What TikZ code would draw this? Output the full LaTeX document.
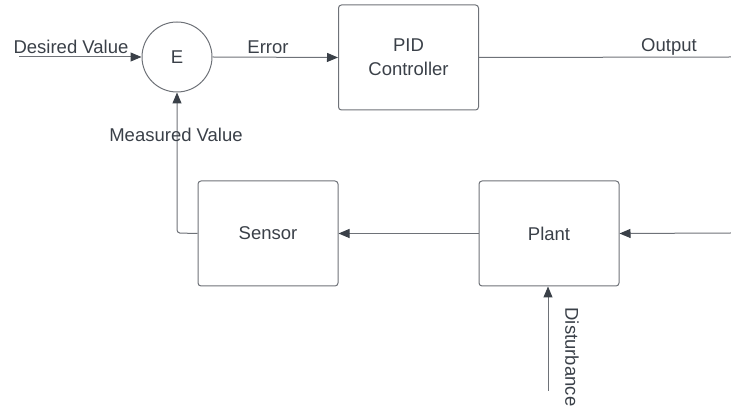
\documentclass[tikz,border=0pt]{standalone}
\usepackage{fontspec}
\setmainfont{Liberation Sans}
\usetikzlibrary{arrows.meta}
\definecolor{ink}{RGB}{58,64,72}
\definecolor{wire}{RGB}{110,114,120}
\tikzset{
  txt/.style={text=ink, font=\fontsize{18.5}{24}\selectfont},
  block/.style={txt, draw=wire, line width=1pt, rounded corners=3pt, minimum width=140pt, minimum height=105pt, inner sep=0pt, align=center},
  sumnode/.style={txt, draw=wire, line width=1pt, circle, minimum size=70pt, inner sep=0pt},
  flow/.style={draw=wire, line width=1pt, -{Triangle[length=11pt,width=9pt,color=ink]}},
  plain/.style={draw=wire, line width=1pt},
  lbl/.style={txt, inner sep=0pt}
}
\begin{document}
\begin{tikzpicture}[x=1pt,y=-1pt]
  \useasboundingbox (0,0) rectangle (731,411);
  \node[sumnode] (E) at (177,57) {E};
  \node[block] (pid) at (408.5,57.5) {PID\\Controller};
  \node[block] (sensor) at (268,233.5) {Sensor};
  \node[block] (plant) at (549,233.5) {Plant};
  \coordinate (din) at (19,57);
  \coordinate (out) at (731,57);
  \coordinate (uin) at (731,233);
  \coordinate (dist) at (548,391);
  \coordinate (corner) at (177,233);
  % signal paths
  \draw[flow] (din) -- (E.west);
  \draw[flow] (E.east) -- (pid.west);
  \draw[plain] (pid.east) -- (out);
  \draw[flow] (uin) -- (plant.east);
  \draw[flow] (plant.west) -- (sensor.east);
  \draw[flow, rounded corners=3pt] (sensor.west) -- (corner) -- (E.south);
  \draw[flow] (dist) -- (dist |- plant.south);
  % labels
  \node[lbl] (ldes) at (71,47) {Desired Value};
  \node[lbl] (lerr) at (268,47) {Error};
  \node[lbl] (lout) at (669,47) {Output};
  \node[lbl] (lmeas) at (176,135) {Measured Value};
  \node[lbl, rotate=-90] (ldist) at (572,357) {Disturbance};
\end{tikzpicture}
\end{document}
